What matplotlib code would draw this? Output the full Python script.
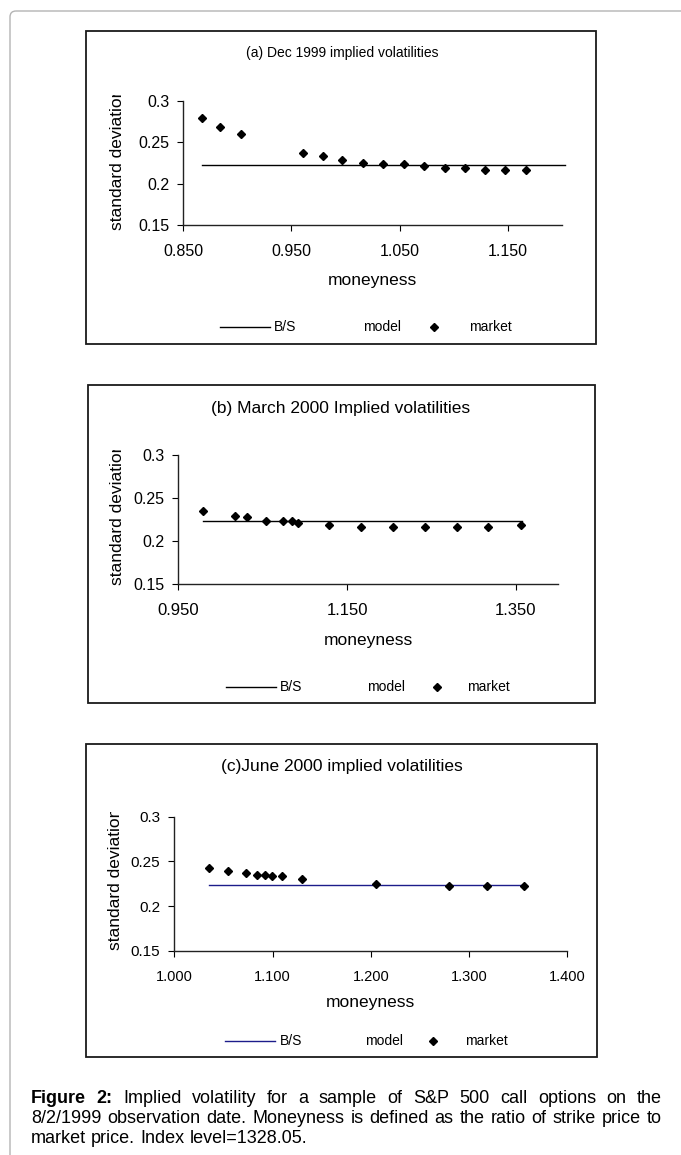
import matplotlib.pyplot as plt
from matplotlib.transforms import Affine2D, Bbox, TransformedBbox
from matplotlib.patches import Rectangle, FancyBboxPatch
from matplotlib.lines import Line2D

plt.rcParams['font.family'] = ['Liberation Sans', 'DejaVu Sans']

W, H = 681, 1155

# B/S model volatility (flat line)
bs_vol = 0.223

# (a) Dec 1999
dec_x = [0.867, 0.884, 0.903, 0.961, 0.979, 0.997, 1.016, 1.035, 1.054,
         1.073, 1.092, 1.111, 1.129, 1.148, 1.167]
dec_vol = [0.279, 0.268, 0.260, 0.237, 0.233, 0.229, 0.225, 0.224, 0.224,
           0.221, 0.219, 0.219, 0.217, 0.217, 0.217]
dec_bs_x = [0.867, 1.203]
dec_ticks = [0.85, 0.95, 1.05, 1.15]
dec_ticklabels = ["0.850", "0.950", "1.050", "1.150"]

# (b) March 2000
mar_x = [0.979, 1.017, 1.032, 1.054, 1.074, 1.085, 1.092, 1.129, 1.167,
         1.205, 1.242, 1.280, 1.317, 1.356]
mar_vol = [0.235, 0.229, 0.228, 0.223, 0.223, 0.223, 0.221, 0.219, 0.216,
           0.216, 0.216, 0.216, 0.216, 0.219]
mar_bs_x = [0.979, 1.357]
mar_ticks = [0.95, 1.15, 1.35]
mar_ticklabels = ["0.950", "1.150", "1.350"]

# (c) June 2000
jun_x = [1.035, 1.055, 1.073, 1.084, 1.092, 1.099, 1.110, 1.130, 1.205,
         1.280, 1.318, 1.356]
jun_vol = [0.2425, 0.2395, 0.2366, 0.235, 0.235, 0.2336, 0.2336, 0.2306,
           0.2242, 0.2227, 0.2227, 0.2227]
jun_bs_x = [1.035, 1.356]
jun_ticks = [1.0, 1.1, 1.2, 1.3, 1.4]
jun_ticklabels = ["1.000", "1.100", "1.200", "1.300", "1.400"]

y_ticks = [0.15, 0.2, 0.25, 0.3]
y_ticklabels = ["0.15", "0.2", "0.25", "0.3"]

fig = plt.figure(figsize=(W / 100, H / 100), dpi=100)
# pixel coords measured from the top-left corner
px = Affine2D().scale(1 / W, -1 / H).translate(0, 1) + fig.transFigure

# outer page frame
fig.add_artist(FancyBboxPatch((10, 11), 720, 1200, boxstyle="round,pad=0,rounding_size=6",
                              transform=px, fill=False, ec="#b4b4b4", lw=1.0))


def panel(box, ax_px, xlim, xs, vols, bs_x, ticks, ticklabels, title, title_xy, title_fs,
          xlabel_xy, ylab_x, ylab_bottom, ylab_top, leg, bs_color, xfs, yfs):
    l, t, r, b = box
    fig.add_artist(Rectangle((l, t), r - l, b - t, transform=px, fill=False,
                             ec="#1a1a1a", lw=1.3))
    al, at, ar, ab = ax_px
    ax = fig.add_axes([al / W, 1 - ab / H, (ar - al) / W, (ab - at) / H])
    ax.plot(bs_x, [bs_vol] * len(bs_x), color=bs_color, lw=1.0, clip_on=False)
    ax.plot(xs, vols, ls="none", marker="D", ms=4.4, color="black", clip_on=False)
    ax.set_xlim(*xlim)
    ax.set_ylim(0.15, 0.3)
    ax.set_xticks(ticks)
    ax.set_xticklabels(ticklabels, fontsize=xfs)
    ax.set_yticks(y_ticks)
    ax.set_yticklabels(y_ticklabels, fontsize=yfs)
    for s in ["top", "right"]:
        ax.spines[s].set_visible(False)
    for s in ["left", "bottom"]:
        ax.spines[s].set_color("#222222")
        ax.spines[s].set_linewidth(1.0)
    ax.tick_params(axis="x", direction="out", length=4, width=0.8, pad=10)
    ax.tick_params(axis="y", direction="out", length=4, width=0.8, pad=6)
    ax.patch.set_visible(False)

    fig.text(*title_xy, title, transform=px, ha="center", va="center", fontsize=title_fs)
    fig.text(*xlabel_xy, "moneyness", transform=px, ha="center", va="center", fontsize=12.5)
    yl = fig.text(ylab_x, ylab_bottom, "standard deviation", transform=px, rotation=90,
                  ha="center", va="bottom", fontsize=12.5)
    yl.set_clip_box(TransformedBbox(Bbox([[ylab_x - 20, ylab_top], [ylab_x + 20, ylab_bottom + 10]]), px))
    yl.set_clip_on(True)

    # legend row
    lx0, lx1, bsx, modx, mkx, marx, ly = leg
    fig.add_artist(Line2D([lx0, lx1], [ly, ly], transform=px, color=bs_color, lw=1.0))
    fig.text(bsx, ly, "B/S", transform=px, ha="left", va="center", fontsize=10)
    fig.text(modx, ly, "model", transform=px, ha="left", va="center", fontsize=10)
    fig.add_artist(Line2D([mkx], [ly], transform=px, marker="D", ms=4.2, color="black", ls="none"))
    fig.text(marx, ly, "market", transform=px, ha="left", va="center", fontsize=10)
    return ax


panel((86, 31, 596, 344), (183.3, 101, 561.7, 225), (0.85, 1.2), dec_x, dec_vol, dec_bs_x,
      dec_ticks, dec_ticklabels, "(a) Dec 1999 implied volatilities", (342, 53), 10,
      (372, 281), 117, 230, 95, (220, 270, 274, 363, 434, 469, 327), "black", 11.5, 11.5)

panel((88, 385, 595, 703), (178.3, 455, 558, 584), (0.95, 1.4), mar_x, mar_vol, mar_bs_x,
      mar_ticks, mar_ticklabels, "(b) March 2000 Implied volatilities", (341, 408), 12.5,
      (368, 641), 118, 585, 450, (226, 276, 280, 367, 437, 467, 687), "black", 12, 11.5)

panel((86, 744, 597, 1057), (174.3, 816.7, 567.3, 950.7), (1.0, 1.4), jun_x, jun_vol, jun_bs_x,
      jun_ticks, jun_ticklabels, "(c)June 2000 implied volatilities", (342, 767), 12.5,
      (370, 1003), 115, 950, 812, (225, 275, 280, 365, 433, 465, 1041), "#1c1c8a", 10.5, 11)

# caption, justified over the first two lines
cap_lines = [
    [("Figure", "bold"), ("2:", "bold"), ("Implied", "normal"), ("volatility", "normal"),
     ("for", "normal"), ("a", "normal"), ("sample", "normal"), ("of", "normal"),
     ("S&P", "normal"), ("500", "normal"), ("call", "normal"), ("options", "normal"),
     ("on", "normal"), ("the", "normal")],
    [(w, "normal") for w in "8/2/1999 observation date. Moneyness is defined as the ratio of strike price to".split()],
    [(w, "normal") for w in "market price. Index level=1328.05.".split()],
]
cap_y = [1103, 1123, 1143]
cap_left, cap_right = 31, 662
cap_fs = 13
renderer = fig.canvas.get_renderer()
for i, (words, y) in enumerate(zip(cap_lines, cap_y)):
    texts = [fig.text(0, y, w, transform=px, ha="left", va="baseline", fontsize=cap_fs, fontweight=fw)
             for w, fw in words]
    widths = [t.get_window_extent(renderer).width for t in texts]
    if i < len(cap_lines) - 1:
        gap = (cap_right - cap_left - sum(widths)) / (len(texts) - 1)
    else:
        gap = cap_fs * 100 / 72 * 0.278
    x = cap_left
    for t, w in zip(texts, widths):
        t.set_x(x)
        x += w + gap

fig.savefig("out.png", dpi=100)
